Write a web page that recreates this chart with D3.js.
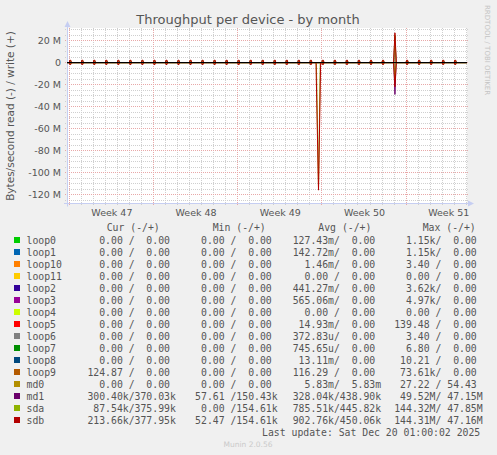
<!DOCTYPE html>
<html>
<head>
<meta charset="utf-8">
<script src="https://cdn.jsdelivr.net/npm/d3@7"></script>
<style>
  body { margin: 0; background: #f0f0f0; }
  text { white-space: pre; }
</style>
</head>
<body>
<svg id="chart" width="497" height="455"></svg>
<script>
// time span of the month graph and the week labels
const spanStart = "2025-11-16 19:30", spanEnd = "2025-12-20 01:30";
const weekStarts = ["2025-11-17", "2025-11-24", "2025-12-01", "2025-12-08", "2025-12-15"];
const weekLabels = ["Week 47", "Week 48", "Week 49", "Week 50", "Week 51"];
const yTicks = [20, 0, -20, -40, -60, -80, -100, -120];   // MB/s

const devices = ["loop0", "loop1", "loop10", "loop11", "loop2", "loop3", "loop4", "loop5",
  "loop6", "loop7", "loop8", "loop9", "md0", "md1", "sda", "sdb"];
const colors = ["#00CC00", "#0066B3", "#FF8000", "#FFCC00", "#330099", "#990099", "#CCFF00", "#FF0000",
  "#808080", "#008F00", "#00487D", "#B35A00", "#B38F00", "#6B006B", "#8FB300", "#B30000"];

// nightly small bursts (02:00), [write, read] in MB/s
const backupTimes = ["2025-11-17 02:00", "2025-11-18 02:00", "2025-11-19 02:00", "2025-11-20 02:00",
  "2025-11-21 02:00", "2025-11-22 02:00", "2025-11-23 02:00", "2025-11-24 02:00", "2025-11-25 02:00",
  "2025-11-26 02:00", "2025-11-27 02:00", "2025-11-28 02:00", "2025-11-29 02:00", "2025-11-30 02:00",
  "2025-12-01 02:00", "2025-12-02 02:00", "2025-12-03 02:00", "2025-12-04 02:00", "2025-12-05 02:00",
  "2025-12-06 02:00", "2025-12-07 02:00", "2025-12-08 02:00", "2025-12-09 02:00", "2025-12-10 02:00",
  "2025-12-11 02:00", "2025-12-12 02:00", "2025-12-13 02:00", "2025-12-15 02:00", "2025-12-16 02:00",
  "2025-12-17 02:00", "2025-12-18 02:00", "2025-12-19 02:00"];
const sdaBlip = [1.8, -1.4];
const sdbBlip = [2.1, -1.8];
const md1Blip = [1.6, -1.0];

// larger events: [time, write, read] in MB/s
const sdaEvents = [["2025-12-07 13:00", 0, 0], ["2025-12-07 17:15", 0, -114], ["2025-12-07 20:45", 0, 0],
  ["2025-12-13 23:30", 0, 0], ["2025-12-14 01:45", 25, -15], ["2025-12-14 04:00", 0, 0]];
const sdbEvents = [["2025-12-07 12:15", 0, 0], ["2025-12-07 17:15", 0, -116], ["2025-12-07 21:30", 0, 0],
  ["2025-12-13 23:00", 0, 0], ["2025-12-14 01:45", 27, -22], ["2025-12-14 04:30", 0, 0]];
const md1Events = [["2025-12-13 23:30", 0, 0], ["2025-12-14 01:45", 24, -29], ["2025-12-14 04:00", 0, 0]];

// legend values, read / write
const curVals = [["0.00","0.00"],["0.00","0.00"],["0.00","0.00"],["0.00","0.00"],["0.00","0.00"],["0.00","0.00"],
  ["0.00","0.00"],["0.00","0.00"],["0.00","0.00"],["0.00","0.00"],["0.00","0.00"],["124.87","0.00"],
  ["0.00","0.00"],["300.40k","370.03k"],["87.54k","375.99k"],["213.66k","377.95k"]];
const minVals = [["0.00","0.00"],["0.00","0.00"],["0.00","0.00"],["0.00","0.00"],["0.00","0.00"],["0.00","0.00"],
  ["0.00","0.00"],["0.00","0.00"],["0.00","0.00"],["0.00","0.00"],["0.00","0.00"],["0.00","0.00"],
  ["0.00","0.00"],["57.61","150.43k"],["0.00","154.61k"],["52.47","154.61k"]];
const avgVals = [["127.43m","0.00"],["142.72m","0.00"],["1.46m","0.00"],["0.00","0.00"],["441.27m","0.00"],
  ["565.06m","0.00"],["0.00","0.00"],["14.93m","0.00"],["372.83u","0.00"],["745.65u","0.00"],["13.11m","0.00"],
  ["116.29","0.00"],["5.83m","5.83m"],["328.04k","438.90k"],["785.51k","445.82k"],["902.76k","450.06k"]];
const maxVals = [["1.15k","0.00"],["1.15k","0.00"],["3.40","0.00"],["0.00","0.00"],["3.62k","0.00"],["4.97k","0.00"],
  ["0.00","0.00"],["139.48","0.00"],["3.40","0.00"],["6.80","0.00"],["10.21","0.00"],["73.61k","0.00"],
  ["27.22","54.43"],["49.52M","47.15M"],["144.32M","47.85M"],["144.31M","47.16M"]];

const parseTime = d3.timeParse("%Y-%m-%d %H:%M");
const parseDay = d3.timeParse("%Y-%m-%d");
const t0 = parseTime(spanStart), t1 = parseTime(spanEnd);

const svg = d3.select("#chart");
const plot = {left: 67, top: 28, width: 400, height: 175};
const sans = "'DejaVu Sans', sans-serif", mono = "'DejaVu Sans Mono', monospace";
const textColor = "#555";

const x = d3.scaleTime().domain([t0, t1]).range([plot.left, plot.left + plot.width]);
const y = d3.scaleLinear().domain([-127.7, 31.4]).range([plot.top + plot.height, plot.top]);
const px = v => Math.round(v - 0.5) + 0.5;

svg.append("rect").attr("width", 497).attr("height", 455).attr("fill", "#f0f0f0");
svg.append("rect").attr("x", plot.left).attr("y", plot.top)
  .attr("width", plot.width).attr("height", plot.height).attr("fill", "#fff");

// grid
const grid = svg.append("g");
const minorY = d3.range(-125, 31, 5).filter(v => v % 20 !== 0);
const days = d3.timeDay.range(d3.timeDay.ceil(t0), t1);
const mondays = weekStarts.map(parseDay);
const minorColor = "#cfcfcf", majorColor = "#e8a8a8";

grid.selectAll(".hmin").data(minorY).enter().append("line")
  .attr("x1", plot.left - 2).attr("x2", plot.left + plot.width + 2)
  .attr("y1", d => px(y(d))).attr("y2", d => px(y(d)))
  .attr("stroke", minorColor).attr("stroke-dasharray", "1,1");
grid.selectAll(".vmin").data(days).enter().append("line")
  .attr("x1", d => px(x(d))).attr("x2", d => px(x(d)))
  .attr("y1", plot.top).attr("y2", plot.top + plot.height + 2)
  .attr("stroke", minorColor).attr("stroke-dasharray", "1,1");
grid.selectAll(".hmaj").data(yTicks).enter().append("line")
  .attr("x1", plot.left - 2).attr("x2", plot.left + plot.width + 2)
  .attr("y1", d => px(y(d))).attr("y2", d => px(y(d)))
  .attr("stroke", majorColor).attr("stroke-dasharray", "1,1");
grid.selectAll(".vmaj").data(mondays).enter().append("line")
  .attr("x1", d => px(x(d))).attr("x2", d => px(x(d)))
  .attr("y1", plot.top).attr("y2", plot.top + plot.height + 3)
  .attr("stroke", majorColor).attr("stroke-dasharray", "1,1");

// axis lines with arrows
const axisColor = "#c6cef2";
const yb = plot.top + plot.height + 0.5, xl = plot.left + 0.5;
svg.append("line").attr("x1", xl).attr("x2", xl).attr("y1", yb + 3).attr("y2", plot.top - 3)
  .attr("stroke", axisColor);
svg.append("path").attr("d", `M${xl - 3},${plot.top - 1}L${xl + 3},${plot.top - 1}L${xl},${plot.top - 7}Z`)
  .attr("fill", axisColor);
svg.append("line").attr("x1", plot.left - 3).attr("x2", plot.left + plot.width + 3)
  .attr("y1", yb).attr("y2", yb).attr("stroke", axisColor);
svg.append("path").attr("d", `M${plot.left + plot.width + 1},${yb - 3}L${plot.left + plot.width + 1},${yb + 3}L${plot.left + plot.width + 7},${yb}Z`)
  .attr("fill", axisColor);

// series
const blips = {sda: sdaBlip, sdb: sdbBlip, md1: md1Blip};
const events = {sda: sdaEvents, sdb: sdbEvents, md1: md1Events};

function buildPoints(blip, evts) {
  const pts = [{t: t0, w: 0, r: 0}, {t: t1, w: 0, r: 0}];
  if (blip) {
    backupTimes.forEach(s => {
      const t = parseTime(s);
      pts.push({t: d3.timeHour.offset(t, -2), w: 0, r: 0}, {t: d3.timeHour.offset(t, -1), w: blip[0], r: blip[1]},
        {t: d3.timeHour.offset(t, 1), w: blip[0], r: blip[1]}, {t: d3.timeHour.offset(t, 2), w: 0, r: 0});
    });
  }
  (evts || []).forEach(e => pts.push({t: parseTime(e[0]), w: e[1], r: e[2]}));
  return pts.sort((a, b) => a.t - b.t);
}

const lineW = d3.line().x(d => x(d.t)).y(d => y(d.w));
const lineR = d3.line().x(d => x(d.t)).y(d => y(d.r));
const series = svg.append("g");
devices.forEach((dev, i) => {
  const pts = buildPoints(blips[dev], events[dev]);
  series.append("path").datum(pts).attr("d", lineR)
    .attr("fill", "none").attr("stroke", colors[i]).attr("stroke-width", 1);
  series.append("path").datum(pts).attr("d", lineW)
    .attr("fill", "none").attr("stroke", colors[i]).attr("stroke-width", 1);
});

// zero line
svg.append("line").attr("x1", plot.left).attr("x2", plot.left + plot.width)
  .attr("y1", px(y(0))).attr("y2", px(y(0))).attr("stroke", "#000");

// axes labels
const yAxis = svg.append("g").attr("transform", `translate(${plot.left},0)`)
  .call(d3.axisLeft(y).tickValues(yTicks).tickSize(0).tickPadding(6)
    .tickFormat(d => d === 0 ? "0" : d + " M"));
yAxis.select(".domain").remove();
yAxis.selectAll("text").attr("fill", textColor).style("font", `9.5px ${sans}`);

const weekMid = mondays.map(d => d3.timeHour.offset(d, 84));
const xAxis = svg.append("g").attr("transform", `translate(0,${plot.top + plot.height})`)
  .call(d3.axisBottom(x).tickValues(weekMid).tickSize(0).tickPadding(6.5)
    .tickFormat((d, i) => weekLabels[i]));
xAxis.select(".domain").remove();
xAxis.selectAll("text").attr("fill", textColor).style("font", `9.5px ${sans}`);

// title and side texts
svg.append("text").attr("x", 248).attr("y", 24).attr("text-anchor", "middle")
  .attr("fill", textColor).style("font", `13px ${sans}`)
  .text("Throughput per device - by month");
svg.append("text").attr("transform", "translate(14,116) rotate(-90)").attr("text-anchor", "middle")
  .attr("fill", textColor).style("font", `10.5px ${sans}`)
  .text("Bytes/second read (-) / write (+)");
svg.append("text").attr("transform", "translate(485,5) rotate(90)")
  .attr("fill", "#c4c4c4").style("font", `7px ${sans}`)
  .text("RRDTOOL / TOBI OETIKER");

// legend
const legend = svg.append("g").style("font", `9.8px ${mono}`).attr("fill", textColor);
const headers = ["Cur (-/+)", "Min (-/+)", "Avg (-/+)", "Max (-/+)"];
const headerX = [106.7, 212.7, 318.3, 422.7];
const colX = [87.4, 189.2, 292.7, 394.2];
headers.forEach((h, i) => legend.append("text").attr("x", headerX[i]).attr("y", 231).text(h));

function cell(v) {
  const part = s => {
    const m = s.match(/^([\d.]+)(\D?)$/);
    return m[1].padStart(6) + (m[2] || " ");
  };
  return part(v[0]) + "/" + part(v[1]);
}

const rowY = 240, rowStep = 12;
devices.forEach((dev, i) => {
  const cy = rowY + i * rowStep;
  legend.append("rect").attr("x", 14).attr("y", cy - 3).attr("width", 6).attr("height", 6)
    .attr("fill", colors[i]);
  legend.append("text").attr("x", 26.5).attr("y", cy + 3.5).text(dev);
  [curVals, minVals, avgVals, maxVals].forEach((vals, c) => {
    legend.append("text").attr("x", colX[c]).attr("y", cy + 3.5).text(cell(vals[i]));
  });
});
legend.append("text").attr("x", 262).attr("y", rowY + devices.length * rowStep + 3.5)
  .text("Last update: Sat Dec 20 01:00:02 2025");

svg.append("text").attr("x", 248).attr("y", 447).attr("text-anchor", "middle")
  .attr("fill", "#cacaca").style("font", `7.5px ${sans}`).text("Munin 2.0.56");
</script>
</body>
</html>
